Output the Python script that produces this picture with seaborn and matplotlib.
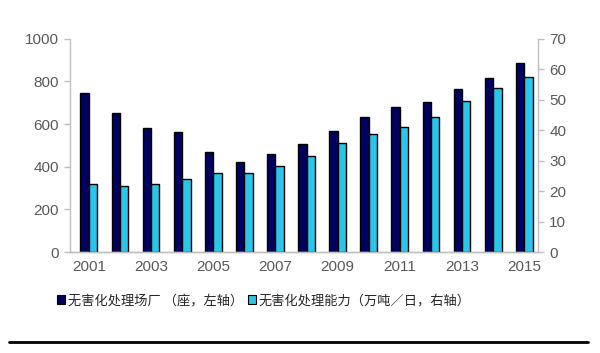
import numpy               as np
import pandas              as pd
import seaborn             as sns
import matplotlib.pyplot   as plt
from matplotlib.patches    import Patch
from matplotlib.lines      import Line2D

# ============================================================ DATA ============================================================

years          = [str(y) for y in range(2001, 2016)]
plants         = [745, 654, 580, 563, 470, 423, 461, 509, 569, 632, 679, 702, 765, 818, 887]   # left axis
capacity       = [22.5, 21.7, 22.2, 23.9, 25.8, 25.8, 28.2, 31.6, 35.7, 38.9, 40.9, 44.4, 49.6, 53.8, 57.6]   # right axis
series_names   = ["无害化处理场厂 （座，左轴）", "无害化处理能力（万吨／日，右轴）"]
tick_years     = years[::2]

# ============================================================ STYLE ===========================================================

sns.set_theme(style="white")
plt.rcParams['font.family'] = ['Liberation Sans', 'Noto Sans CJK SC', 'DejaVu Sans']

DARK  = "#00005e"
LIGHT = "#29c6ea"
GREY  = "#595959"
palette = {series_names[0]: DARK, series_names[1]: LIGHT}

df = pd.DataFrame({
    "Year"  : years * 2,
    "Value" : plants + capacity,
    "Series": [series_names[0]] * len(years) + [series_names[1]] * len(years),
})

# ============================================================ PLOT ============================================================

fig = plt.figure(figsize=(6, 3.53), dpi=100)
ax  = fig.add_axes([0.117, 0.286, 0.78, 0.604])
ax2 = ax.twinx()

bar_kw = dict(x="Year", y="Value", hue="Series", hue_order=series_names, palette=palette,
              order=years, width=0.54, dodge=True, saturation=1,
              edgecolor="black", linewidth=1.0, legend=False)
sns.barplot(data=df[df["Series"] == series_names[0]], ax=ax, **bar_kw)
sns.barplot(data=df[df["Series"] == series_names[1]], ax=ax2, **bar_kw)

ax.set_ylim(0, 1000)
ax2.set_ylim(0, 70)
ax.set_xlim(-0.6, 14.45)
ax.set_yticks(np.arange(0, 1001, 200))
ax2.set_yticks(np.arange(0, 71, 10))
ax.set_xticks([years.index(y) for y in tick_years])
ax.set_xticklabels(tick_years)

for a in (ax, ax2):
    a.set_xlabel("")
    a.set_ylabel("")
    a.grid(False)
    for s in a.spines.values():
        s.set_color("#bfbfbf")
        s.set_linewidth(1.0)
    a.spines["top"].set_visible(False)
    a.tick_params(axis="both", colors=GREY, labelsize=11, length=4, width=1.0, color="#bfbfbf")
ax.tick_params(axis="x", length=0, pad=6)
ax.tick_params(axis="y", left=True, pad=4)
ax2.tick_params(axis="y", right=True, pad=4)
ax.spines["right"].set_visible(False)
ax2.spines["left"].set_visible(False)

handles = [Patch(facecolor=palette[n], edgecolor="black", linewidth=0.8) for n in series_names]
fig.legend(handles, series_names, loc="center", bbox_to_anchor=(0.44, 0.148), ncol=2, frameon=False,
           prop={"family": ["Noto Sans CJK SC", "DejaVu Sans"], "size": 9.5},
           handlelength=0.6, handleheight=0.6, handletextpad=0.2, columnspacing=0.4,
           labelcolor="#262626")

fig.add_artist(Line2D([0.015, 0.98], [0.032, 0.032], color="black", linewidth=2))

plt.savefig("out.png", dpi=100)
